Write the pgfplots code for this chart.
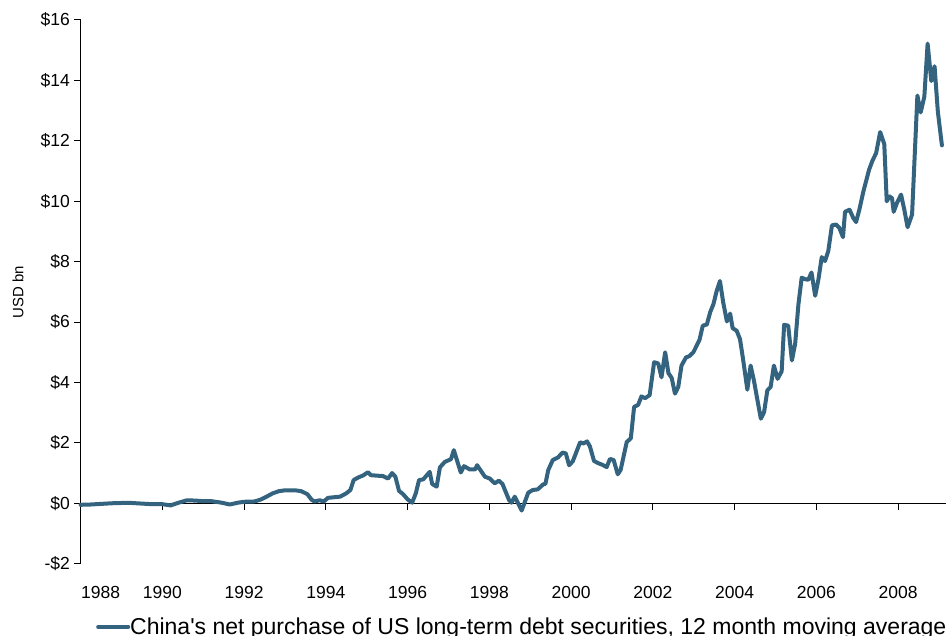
\documentclass[border=0pt]{standalone}
\usepackage{fontspec}
\setmainfont{Liberation Sans}
\usepackage{pgfplots}
\pgfplotsset{compat=1.18}
\definecolor{lineblue}{RGB}{52,99,128}
\begin{document}
\begin{tikzpicture}
\begin{axis}[
  scale only axis, width=865.4bp, height=543.7bp,
  xmin=1988, xmax=2009.17, ymin=-2, ymax=16,
  axis y line=left, axis x line=bottom,
  x axis line style={draw=none},
  y axis line style={-, black, line width=1bp},
  tick align=outside, major tick length=6.5bp,
  ytick={-2,0,2,4,6,8,10,12,14,16},
  yticklabels={-\$2,\$0,\$2,\$4,\$6,\$8,\$10,\$12,\$14,\$16},
  xtick={1990,1992,1994,1996,1998,2000,2002,2004,2006,2008},
  xticklabels={1990,1992,1994,1996,1998,2000,2002,2004,2006,2008},
  extra x ticks={1988}, extra x tick labels={1988},
  extra x tick style={xticklabel style={xshift=20bp, yshift=-6.5bp}, major tick length=0pt},
  ytick style={black, line width=1bp},
  xtick style={black, line width=1bp, yshift=60.41bp},
  tick label style={font=\fontsize{17.5bp}{21bp}\selectfont, text=black},
  yticklabel style={inner sep=0pt, anchor=east, xshift=-4bp},
  xticklabel style={inner sep=0pt, anchor=base, yshift=-28bp},
  legend style={at={([xshift=15.4bp,yshift=-63.6bp]rel axis cs:0,0)}, anchor=west, draw=none, fill=none, inner sep=0pt, nodes={inner sep=0pt}, font=\fontsize{23bp}{27bp}\selectfont, /tikz/every even column/.append style={column sep=2bp}},
  legend image code/.code={\draw[#1, line width=4bp] (0bp,0bp) -- (30bp,0bp); \path[draw=none] (0bp,-10bp) -- (0bp,0bp);},
  clip=false,
]
\draw[black, line width=1bp] (axis cs:1988,0) -- (axis cs:2009.17,0);
\addplot[lineblue, line width=4bp, line join=round, line cap=round] coordinates {
(1988.00,-0.05) (1988.25,-0.04) (1988.50,-0.02) (1988.75,0.00) (1989.00,0.01)
(1989.25,0.01) (1989.50,-0.01) (1989.75,-0.03) (1990.00,-0.03) (1990.20,-0.07)
(1990.40,0.02) (1990.60,0.10) (1990.80,0.09) (1991.00,0.07) (1991.20,0.07)
(1991.45,0.02) (1991.65,-0.04) (1991.85,0.02) (1992.00,0.05) (1992.25,0.06)
(1992.40,0.12) (1992.55,0.22) (1992.70,0.33) (1992.85,0.40) (1993.00,0.43)
(1993.25,0.43) (1993.40,0.40) (1993.55,0.30) (1993.65,0.12) (1993.72,0.06)
(1993.85,0.10) (1993.95,0.06) (1994.05,0.18) (1994.20,0.20) (1994.35,0.22)
(1994.50,0.33) (1994.60,0.44) (1994.68,0.77) (1994.80,0.86) (1994.91,0.92)
(1995.03,1.03) (1995.10,0.93) (1995.40,0.90) (1995.52,0.82) (1995.62,1.00)
(1995.70,0.88) (1995.79,0.41) (1995.89,0.30) (1996.00,0.13) (1996.11,0.02)
(1996.20,0.33) (1996.28,0.77) (1996.38,0.79) (1996.54,1.04) (1996.60,0.64)
(1996.71,0.55) (1996.79,1.19) (1996.91,1.37) (1997.06,1.46) (1997.13,1.76)
(1997.30,1.02) (1997.38,1.23) (1997.52,1.12) (1997.65,1.12) (1997.70,1.26)
(1997.79,1.08) (1997.89,0.88) (1998.01,0.82) (1998.13,0.66) (1998.23,0.75)
(1998.32,0.64) (1998.48,0.11) (1998.54,0.02) (1998.62,0.22) (1998.79,-0.24)
(1998.95,0.35) (1999.06,0.44) (1999.18,0.46) (1999.32,0.63) (1999.37,0.64)
(1999.44,1.10) (1999.55,1.43) (1999.68,1.52) (1999.79,1.68) (1999.87,1.65)
(1999.95,1.26) (2000.04,1.39) (2000.22,2.02) (2000.30,1.98) (2000.39,2.05)
(2000.46,1.88) (2000.56,1.40) (2000.66,1.33) (2000.77,1.27) (2000.87,1.20)
(2000.95,1.47) (2001.04,1.43) (2001.14,0.96) (2001.21,1.10) (2001.36,2.03)
(2001.46,2.15) (2001.54,3.19) (2001.64,3.26) (2001.72,3.54) (2001.81,3.48)
(2001.92,3.58) (2002.03,4.67) (2002.13,4.63) (2002.21,4.17) (2002.30,5.00)
(2002.38,4.31) (2002.46,4.15) (2002.54,3.63) (2002.62,3.85) (2002.70,4.56)
(2002.81,4.83) (2002.89,4.87) (2002.99,5.00) (2003.14,5.41) (2003.22,5.88)
(2003.32,5.92) (2003.40,6.32) (2003.48,6.59) (2003.56,7.03) (2003.64,7.36)
(2003.72,6.65) (2003.81,6.02) (2003.89,6.28) (2003.95,5.80) (2004.05,5.71)
(2004.13,5.44) (2004.21,4.73) (2004.31,3.76) (2004.39,4.56) (2004.47,4.07)
(2004.64,2.80) (2004.72,3.02) (2004.80,3.74) (2004.88,3.85) (2004.96,4.56)
(2005.05,4.12) (2005.15,4.37) (2005.21,5.91) (2005.31,5.88) (2005.40,4.73)
(2005.48,5.28) (2005.56,6.59) (2005.64,7.47) (2005.72,7.42) (2005.80,7.40)
(2005.88,7.64) (2005.97,6.87) (2006.05,7.42) (2006.13,8.15) (2006.21,8.02)
(2006.29,8.35) (2006.38,9.20) (2006.48,9.23) (2006.56,9.12) (2006.65,8.81)
(2006.70,9.65) (2006.81,9.72) (2006.90,9.45) (2006.97,9.31) (2007.05,9.72)
(2007.15,10.33) (2007.29,11.05) (2007.37,11.34) (2007.46,11.59) (2007.56,12.29)
(2007.66,11.89) (2007.72,10.00) (2007.79,10.16) (2007.85,10.10) (2007.89,9.65)
(2007.97,9.94) (2008.07,10.22) (2008.15,9.72) (2008.23,9.14) (2008.34,9.56)
(2008.47,13.50) (2008.55,12.94) (2008.64,13.46) (2008.72,15.22) (2008.81,13.98)
(2008.89,14.47) (2008.97,12.97) (2009.07,11.85)
};
\addlegendentry{China\textquotesingle s net purchase of US long-term debt securities, 12 month moving average}
\node[rotate=90, anchor=center, inner sep=0pt, font=\fontsize{15}{18}\selectfont] at ([xshift=-62.6bp]rel axis cs:0,0.5) {USD bn};
\coordinate (BBsw) at ([xshift=-80.6bp,yshift=-72.3bp]rel axis cs:0,0);
\coordinate (BBne) at ([yshift=20bp]rel axis cs:1,1);
\end{axis}
\pgfresetboundingbox
\path[use as bounding box] (BBsw) rectangle (BBne);
\end{tikzpicture}
\end{document}
